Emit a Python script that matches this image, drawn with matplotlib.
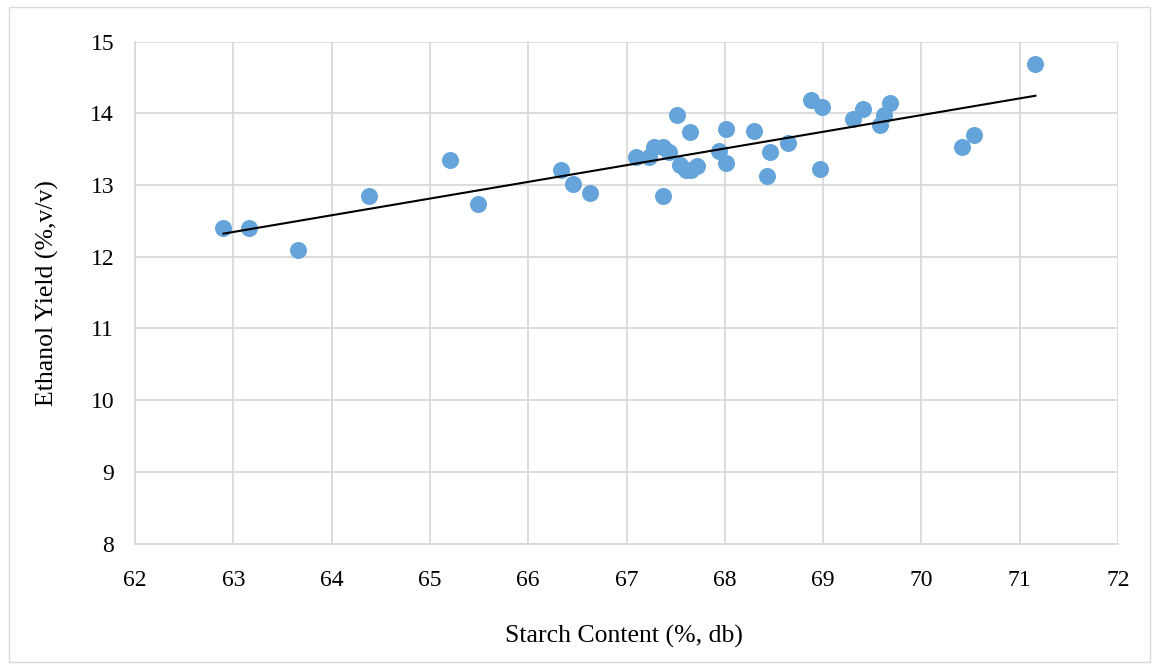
import numpy as np
import matplotlib
matplotlib.use("Agg")
import matplotlib.pyplot as plt
from matplotlib.patches import Rectangle

# Starch content (%, db) and ethanol yield (%, v/v) for each sample
starch = [62.90, 63.16, 63.66, 64.38, 65.20, 65.49, 66.33, 66.46, 66.63,
          67.10, 67.23, 67.28, 67.37, 67.43, 67.51, 67.37, 67.54, 67.61,
          67.66, 67.72, 67.65, 67.94, 68.01, 68.01, 68.30, 68.46, 68.43,
          68.64, 68.88, 68.99, 68.97, 69.30, 69.41, 69.58, 69.62, 69.68,
          70.41, 70.54, 71.16]
ethanol = [12.40, 12.40, 12.09, 12.85, 13.35, 12.73, 13.21, 13.01, 12.89,
           13.39, 13.39, 13.53, 13.53, 13.46, 13.98, 12.85, 13.28, 13.21,
           13.21, 13.26, 13.74, 13.48, 13.78, 13.31, 13.75, 13.46, 13.12,
           13.58, 14.19, 14.09, 13.23, 13.92, 14.06, 13.84, 13.97, 14.14,
           13.53, 13.70, 14.69]

x_ticks = list(range(62, 73))
y_ticks = list(range(8, 16))

plt.rcParams['font.family'] = ['Liberation Serif', 'DejaVu Serif']

W, H = 1154, 664
fig = plt.figure(figsize=(W / 100, H / 100), dpi=100)

# light chart-area border
fig.patches.append(Rectangle((9 / W, 1 - 662 / H), (1150 - 9) / W, (662 - 7) / H,
                             transform=fig.transFigure, fill=False,
                             edgecolor='#d9d9d9', linewidth=1.0))

ax = fig.add_axes([135 / W, 1 - 543.5 / H, (1118 - 135) / W, (543.5 - 41.6) / H])

ax.scatter(starch, ethanol, s=150, color='#64a4da', zorder=3, linewidths=0)

# linear trendline across the data range
xs = np.array(starch)
ys = np.array(ethanol)
slope, intercept = np.polyfit(xs, ys, 1)
xl = np.array([xs.min(), xs.max()])
ax.plot(xl, slope * xl + intercept, color='black', linewidth=1.5, zorder=4)

ax.set_xlim(62, 72)
ax.set_ylim(8, 15)
ax.set_xticks(x_ticks)
ax.set_yticks(y_ticks)
ax.grid(True, color='#d9d9d9', linewidth=1.3, zorder=0)
ax.set_axisbelow(True)
for side in ['top', 'right']:
    ax.spines[side].set_visible(False)
for side in ['left', 'bottom']:
    ax.spines[side].set_color('#d9d9d9')
    ax.spines[side].set_linewidth(1.3)
ax.tick_params(axis='x', length=0, labelsize=17, pad=19, colors='black')
ax.tick_params(axis='y', length=0, labelsize=17, pad=15, colors='black')

fig.text(624 / W, 1 - 636 / H, 'Starch Content (%, db)', fontsize=18.5,
         ha='center', va='center')
fig.text(47 / W, 1 - 293 / H, 'Ethanol Yield (%,v/v)', fontsize=18.5,
         ha='center', va='center', rotation=90)

fig.savefig('out.png', dpi=100)
